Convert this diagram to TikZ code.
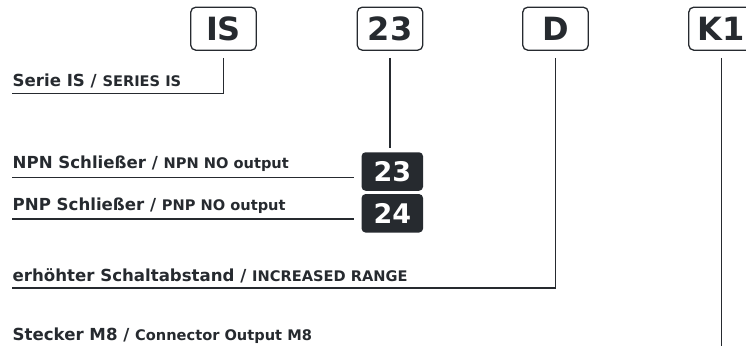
\documentclass[tikz,border=0pt]{standalone}
\usepackage{fontspec}
\setmainfont{DejaVu Sans}
\definecolor{ink}{HTML}{262A2F}
\newcommand{\en}[1]{{\fontsize{14.6}{14.6}\selectfont #1}}
\begin{document}
\begin{tikzpicture}[x=1pt,y=-1pt,
  codebox/.style={draw=ink, line width=1.3pt, rounded corners=5pt, minimum width=65.5pt, minimum height=43pt, inner sep=0pt, text=ink, font=\fontsize{32}{32}\selectfont\bfseries, text height=23.5pt, text depth=0pt},
  darkbox/.style={fill=ink, rounded corners=4pt, minimum width=61.5pt, minimum height=38.5pt, inner sep=0pt, text=white, font=\fontsize{27}{27}\selectfont\bfseries, text height=20pt, text depth=0pt},
  lbl/.style={text=ink, font=\fontsize{16.6}{16.6}\selectfont\bfseries, inner sep=0pt, anchor=base west},
  lead/.style={draw=ink, line width=1.1pt},
]
\useasboundingbox (0,0) rectangle (746,345);

% code boxes
\node[codebox] (bIS) at (223.5,28.7) {IS};
\node[codebox] (b23) at (390,28.7) {23};
\node[codebox] (bD) at (555.5,28.7) {D};
\node[codebox] (bK1) at (721.5,28.7) {K1};

% option boxes
\node[darkbox] (d23) at (392.3,171.5) {23};
\node[darkbox] (d24) at (392.3,213.3) {24};

% labels
\node[lbl] (lIS) at (12.5,86) {Serie IS / \en{SERIES IS}};
\node[lbl] (lNPN) at (12.5,168) {NPN Schließer / \en{NPN NO output}};
\node[lbl] (lPNP) at (12.5,210) {PNP Schließer / \en{PNP NO output}};
\node[lbl] (lER) at (12.5,281) {erhöhter Schaltabstand / \en{INCREASED RANGE}};
\node[lbl] (lST) at (12.5,340) {Stecker M8 / \en{Connector Output M8}};

% underline start points
\coordinate (uIS) at (12,93.5);
\coordinate (uNPN) at (12,177.5);
\coordinate (uPNP) at (12,219);
\coordinate (uER) at (12,288);
\coordinate (bottom) at (0,350);

% connectors
\draw[lead] ([yshift=-7pt]bIS.south) |- (uIS);
\draw[lead, shorten >=4pt] ([yshift=-7pt]b23.south) -- (b23.south |- d23.north);
\draw[lead] (uNPN) -- ([xshift=-7pt]d23.west |- uNPN);
\draw[lead] (uPNP) -- ([xshift=-7pt]d24.west |- uPNP);
\draw[lead] ([yshift=-7pt]bD.south) |- (uER);
\draw[lead] ([yshift=-7pt]bK1.south) -- (bK1.south |- bottom);
\end{tikzpicture}
\end{document}
